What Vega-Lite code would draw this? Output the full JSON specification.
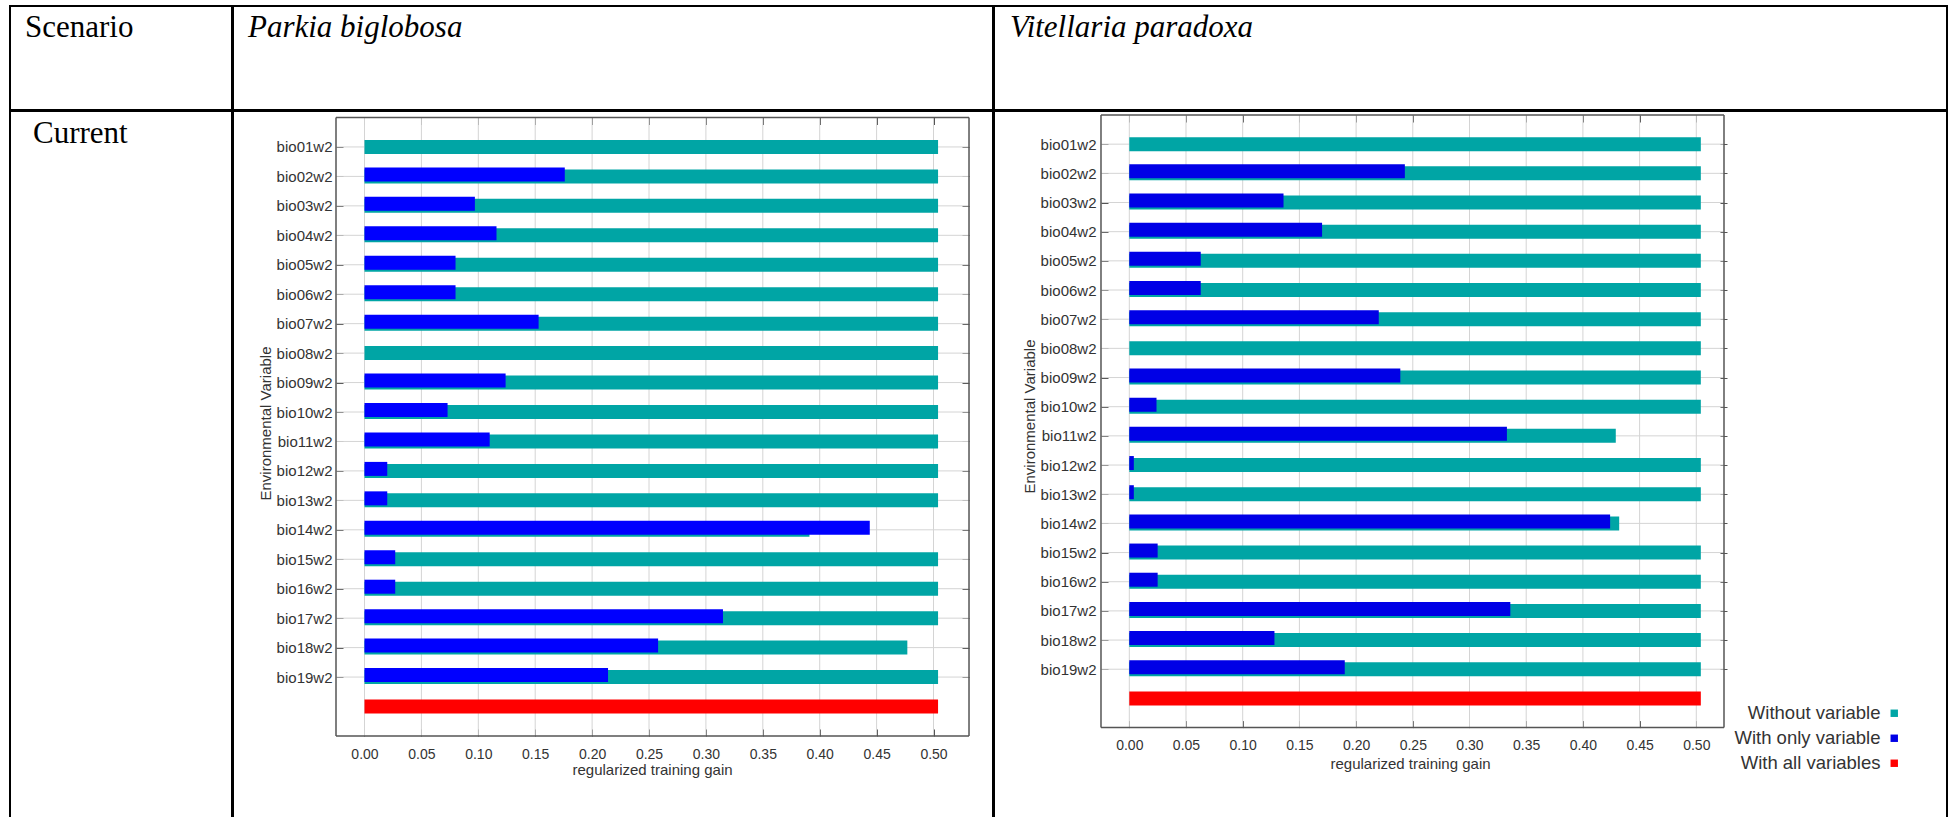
{
  "$schema": "https://vega.github.io/schema/vega-lite/v6.json",
  "padding": {"left": 9, "top": 5, "right": 0, "bottom": -14},
  "background": "white",
  "config": {
    "view": {"stroke": "#000000", "strokeWidth": 2},
    "axis": {"grid": false, "labelFont": "Liberation Sans", "titleFont": "Liberation Sans", "labelColor": "#333333", "titleColor": "#333333", "tickColor": "#555555", "titleFontWeight": "normal", "domain": false},
    "legend": {"labelFont": "Liberation Sans"},
    "title": {"font": "Liberation Serif", "fontSize": 31, "fontWeight": "normal", "color": "#000000", "anchor": "start", "frame": "group", "orient": "top", "baseline": "alphabetic"}
  },
  "datasets": {
    "parkia": [
      {"var": "bio01w2", "kind": "Without variable", "gain": 0.504}, {"var": "bio01w2", "kind": "With only variable", "gain": 0},
      {"var": "bio02w2", "kind": "Without variable", "gain": 0.504}, {"var": "bio02w2", "kind": "With only variable", "gain": 0.176},
      {"var": "bio03w2", "kind": "Without variable", "gain": 0.504}, {"var": "bio03w2", "kind": "With only variable", "gain": 0.097},
      {"var": "bio04w2", "kind": "Without variable", "gain": 0.504}, {"var": "bio04w2", "kind": "With only variable", "gain": 0.116},
      {"var": "bio05w2", "kind": "Without variable", "gain": 0.504}, {"var": "bio05w2", "kind": "With only variable", "gain": 0.080},
      {"var": "bio06w2", "kind": "Without variable", "gain": 0.504}, {"var": "bio06w2", "kind": "With only variable", "gain": 0.080},
      {"var": "bio07w2", "kind": "Without variable", "gain": 0.504}, {"var": "bio07w2", "kind": "With only variable", "gain": 0.153},
      {"var": "bio08w2", "kind": "Without variable", "gain": 0.504}, {"var": "bio08w2", "kind": "With only variable", "gain": 0},
      {"var": "bio09w2", "kind": "Without variable", "gain": 0.504}, {"var": "bio09w2", "kind": "With only variable", "gain": 0.124},
      {"var": "bio10w2", "kind": "Without variable", "gain": 0.504}, {"var": "bio10w2", "kind": "With only variable", "gain": 0.073},
      {"var": "bio11w2", "kind": "Without variable", "gain": 0.504}, {"var": "bio11w2", "kind": "With only variable", "gain": 0.110},
      {"var": "bio12w2", "kind": "Without variable", "gain": 0.504}, {"var": "bio12w2", "kind": "With only variable", "gain": 0.020},
      {"var": "bio13w2", "kind": "Without variable", "gain": 0.504}, {"var": "bio13w2", "kind": "With only variable", "gain": 0.020},
      {"var": "bio14w2", "kind": "Without variable", "gain": 0.391}, {"var": "bio14w2", "kind": "With only variable", "gain": 0.444},
      {"var": "bio15w2", "kind": "Without variable", "gain": 0.504}, {"var": "bio15w2", "kind": "With only variable", "gain": 0.027},
      {"var": "bio16w2", "kind": "Without variable", "gain": 0.504}, {"var": "bio16w2", "kind": "With only variable", "gain": 0.027},
      {"var": "bio17w2", "kind": "Without variable", "gain": 0.504}, {"var": "bio17w2", "kind": "With only variable", "gain": 0.315},
      {"var": "bio18w2", "kind": "Without variable", "gain": 0.477}, {"var": "bio18w2", "kind": "With only variable", "gain": 0.258},
      {"var": "bio19w2", "kind": "Without variable", "gain": 0.504}, {"var": "bio19w2", "kind": "With only variable", "gain": 0.214},
      {"var": "all", "kind": "With all variables", "gain": 0.504}
    ],
    "vitellaria": [
      {"var": "bio01w2", "kind": "Without variable", "gain": 0.504}, {"var": "bio01w2", "kind": "With only variable", "gain": 0},
      {"var": "bio02w2", "kind": "Without variable", "gain": 0.504}, {"var": "bio02w2", "kind": "With only variable", "gain": 0.243},
      {"var": "bio03w2", "kind": "Without variable", "gain": 0.504}, {"var": "bio03w2", "kind": "With only variable", "gain": 0.136},
      {"var": "bio04w2", "kind": "Without variable", "gain": 0.504}, {"var": "bio04w2", "kind": "With only variable", "gain": 0.170},
      {"var": "bio05w2", "kind": "Without variable", "gain": 0.504}, {"var": "bio05w2", "kind": "With only variable", "gain": 0.063},
      {"var": "bio06w2", "kind": "Without variable", "gain": 0.504}, {"var": "bio06w2", "kind": "With only variable", "gain": 0.063},
      {"var": "bio07w2", "kind": "Without variable", "gain": 0.504}, {"var": "bio07w2", "kind": "With only variable", "gain": 0.220},
      {"var": "bio08w2", "kind": "Without variable", "gain": 0.504}, {"var": "bio08w2", "kind": "With only variable", "gain": 0},
      {"var": "bio09w2", "kind": "Without variable", "gain": 0.504}, {"var": "bio09w2", "kind": "With only variable", "gain": 0.239},
      {"var": "bio10w2", "kind": "Without variable", "gain": 0.504}, {"var": "bio10w2", "kind": "With only variable", "gain": 0.024},
      {"var": "bio11w2", "kind": "Without variable", "gain": 0.429}, {"var": "bio11w2", "kind": "With only variable", "gain": 0.333},
      {"var": "bio12w2", "kind": "Without variable", "gain": 0.504}, {"var": "bio12w2", "kind": "With only variable", "gain": 0.004},
      {"var": "bio13w2", "kind": "Without variable", "gain": 0.504}, {"var": "bio13w2", "kind": "With only variable", "gain": 0.004},
      {"var": "bio14w2", "kind": "Without variable", "gain": 0.432}, {"var": "bio14w2", "kind": "With only variable", "gain": 0.424},
      {"var": "bio15w2", "kind": "Without variable", "gain": 0.504}, {"var": "bio15w2", "kind": "With only variable", "gain": 0.025},
      {"var": "bio16w2", "kind": "Without variable", "gain": 0.504}, {"var": "bio16w2", "kind": "With only variable", "gain": 0.025},
      {"var": "bio17w2", "kind": "Without variable", "gain": 0.504}, {"var": "bio17w2", "kind": "With only variable", "gain": 0.336},
      {"var": "bio18w2", "kind": "Without variable", "gain": 0.504}, {"var": "bio18w2", "kind": "With only variable", "gain": 0.128},
      {"var": "bio19w2", "kind": "Without variable", "gain": 0.504}, {"var": "bio19w2", "kind": "With only variable", "gain": 0.190},
      {"var": "all", "kind": "With all variables", "gain": 0.504}
    ],
    "ticks": [{"t": 0}, {"t": 0.05}, {"t": 0.1}, {"t": 0.15}, {"t": 0.2}, {"t": 0.25}, {"t": 0.3}, {"t": 0.35}, {"t": 0.4}, {"t": 0.45}, {"t": 0.5}],
    "one": [{"k": 1}]
  },
  "spacing": -2,
  "resolve": {"scale": {"color": "independent"}, "legend": {"color": "independent"}},
  "vconcat": [
    {
      "spacing": -2,
      "hconcat": [
        {"width": 222, "height": 104, "data": {"name": "one"}, "mark": {"type": "text"},
         "encoding": {"text": {"value": ""}, "x": {"datum": 1, "type": "quantitative", "axis": null, "scale": {"domain": [0, 2]}}, "y": {"datum": 1, "type": "quantitative", "axis": null, "scale": {"domain": [0, 2]}}},
         "title": {"text": "Scenario", "offset": -37.5, "dx": 15}},
        {"width": 760, "height": 104, "data": {"name": "one"}, "mark": {"type": "text"},
         "encoding": {"text": {"value": ""}, "x": {"datum": 1, "type": "quantitative", "axis": null, "scale": {"domain": [0, 2]}}, "y": {"datum": 1, "type": "quantitative", "axis": null, "scale": {"domain": [0, 2]}}},
         "title": {"text": "Parkia biglobosa", "offset": -37.5, "dx": 15, "fontStyle": "italic"}},
        {"width": 953, "height": 104, "data": {"name": "one"}, "mark": {"type": "text"},
         "encoding": {"text": {"value": ""}, "x": {"datum": 1, "type": "quantitative", "axis": null, "scale": {"domain": [0, 2]}}, "y": {"datum": 1, "type": "quantitative", "axis": null, "scale": {"domain": [0, 2]}}},
         "title": {"text": "Vitellaria paradoxa", "offset": -37.5, "dx": 16, "fontStyle": "italic"}}
      ]
    },
    {
      "spacing": -2,
      "resolve": {"scale": {"color": "independent"}, "legend": {"color": "independent"}},
      "hconcat": [
        {"width": 222, "height": 720, "data": {"name": "one"}, "mark": {"type": "text"},
         "encoding": {"text": {"value": ""}, "x": {"datum": 1, "type": "quantitative", "axis": null, "scale": {"domain": [0, 2]}}, "y": {"datum": 1, "type": "quantitative", "axis": null, "scale": {"domain": [0, 2]}}},
         "title": {"text": "Current", "offset": -38.5, "dx": 23}},
        {
          "width": 760, "height": 720,
          "data": {"name": "parkia"},
          "resolve": {"axis": {"x": "independent", "y": "independent"}},
          "layer": [
            {"transform": [{"filter": "datum.kind === 'Without variable'"}],
             "mark": {"type": "rule", "color": "#d4d4d4", "strokeWidth": 1},
             "encoding": {
               "y": {"field": "var", "type": "nominal", "axis": null,
                     "scale": {"type": "point", "domain": ["_top", "bio01w2", "bio02w2", "bio03w2", "bio04w2", "bio05w2", "bio06w2", "bio07w2", "bio08w2", "bio09w2", "bio10w2", "bio11w2", "bio12w2", "bio13w2", "bio14w2", "bio15w2", "bio16w2", "bio17w2", "bio18w2", "bio19w2", "all", "_bottom", "_p1", "_p2"], "padding": 0.724, "align": 0.1524}},
               "x": {"datum": -0.02504, "type": "quantitative", "axis": null, "scale": {"domain": [-0.11555, 0.55228], "nice": false, "zero": false}},
               "x2": {"datum": 0.5312}
             }},
            {"data": {"name": "ticks"},
             "mark": {"type": "rule", "color": "#d4d4d4", "strokeWidth": 1},
             "encoding": {
               "x": {"field": "t", "type": "quantitative", "axis": null},
               "y": {"datum": "_top", "type": "nominal", "axis": null},
               "y2": {"datum": "_bottom"}
             }},
            {"transform": [{"filter": "datum.kind !== 'With only variable'"}],
             "mark": {"type": "bar", "height": 14},
             "encoding": {
               "x": {"field": "gain", "type": "quantitative", "stack": null,
                     "axis": {"orient": "bottom", "offset": -102, "values": [0, 0.05, 0.1, 0.15, 0.2, 0.25, 0.3, 0.35, 0.4, 0.45, 0.5], "format": ".2f", "tickSize": 7, "labelPadding": 11, "labelFontSize": 14, "title": "regularized training gain", "titleFontSize": 15, "titlePadding": 1, "titleX": 419}},
               "y": {"field": "var", "type": "nominal",
                     "axis": {"orient": "left", "offset": -110, "values": ["bio01w2", "bio02w2", "bio03w2", "bio04w2", "bio05w2", "bio06w2", "bio07w2", "bio08w2", "bio09w2", "bio10w2", "bio11w2", "bio12w2", "bio13w2", "bio14w2", "bio15w2", "bio16w2", "bio17w2", "bio18w2", "bio19w2"], "tickSize": 7, "labelPadding": 4, "labelFontSize": 15, "title": "Environmental Variable", "titleFontSize": 15, "titlePadding": 3, "titleY": 312}},
               "color": {"field": "kind", "type": "nominal", "legend": null,
                         "scale": {"domain": ["Without variable", "With only variable", "With all variables"], "range": ["#00a5a5", "#0000ff", "#ff0000"]}}
             }},
            {"transform": [{"filter": "datum.kind === 'With only variable'"}],
             "mark": {"type": "bar", "height": 14, "yOffset": -2},
             "encoding": {
               "x": {"field": "gain", "type": "quantitative", "stack": null, "axis": null},
               "y": {"field": "var", "type": "nominal", "axis": null},
               "color": {"field": "kind", "type": "nominal", "legend": null}
             }},
            {"data": {"name": "one"},
             "mark": {"type": "rule", "color": "#555555", "strokeWidth": 1.5},
             "encoding": {
               "x": {"datum": -0.02504, "type": "quantitative", "axis": null},
               "y": {"datum": "_top", "type": "nominal", "axis": null},
               "y2": {"datum": "_bottom"}
             }},
            {"data": {"name": "one"},
             "mark": {"type": "rule", "color": "#555555", "strokeWidth": 1.5},
             "encoding": {
               "x": {"datum": 0.5312, "type": "quantitative", "axis": null},
               "y": {"datum": "_top", "type": "nominal",
                     "axis": {"orient": "right", "offset": -31, "values": ["bio01w2", "bio02w2", "bio03w2", "bio04w2", "bio05w2", "bio06w2", "bio07w2", "bio08w2", "bio09w2", "bio10w2", "bio11w2", "bio12w2", "bio13w2", "bio14w2", "bio15w2", "bio16w2", "bio17w2", "bio18w2", "bio19w2"], "tickSize": 7, "labels": false, "title": null}},
               "y2": {"datum": "_bottom"}
             }},
            {"data": {"name": "one"},
             "mark": {"type": "rule", "color": "#555555", "strokeWidth": 1.5},
             "encoding": {
               "y": {"datum": "_top", "type": "nominal", "axis": null},
               "x": {"datum": -0.02504, "type": "quantitative",
                     "axis": {"orient": "top", "offset": -13.5, "values": [0, 0.05, 0.1, 0.15, 0.2, 0.25, 0.3, 0.35, 0.4, 0.45, 0.5], "tickSize": 7, "labels": false, "title": null}},
               "x2": {"datum": 0.5312}
             }},
            {"data": {"name": "one"},
             "mark": {"type": "rule", "color": "#555555", "strokeWidth": 1.5},
             "encoding": {
               "y": {"datum": "_bottom", "type": "nominal", "axis": null},
               "x": {"datum": -0.02504, "type": "quantitative", "axis": null},
               "x2": {"datum": 0.5312}
             }}
          ]
        },
        {
          "width": 953, "height": 720,
          "data": {"name": "vitellaria"},
          "resolve": {"axis": {"x": "independent", "y": "independent"}},
          "layer": [
            {"transform": [{"filter": "datum.kind === 'Without variable'"}],
             "mark": {"type": "rule", "color": "#d4d4d4", "strokeWidth": 1},
             "encoding": {
               "y": {"field": "var", "type": "nominal", "axis": null,
                     "scale": {"type": "point", "domain": ["_top", "bio01w2", "bio02w2", "bio03w2", "bio04w2", "bio05w2", "bio06w2", "bio07w2", "bio08w2", "bio09w2", "bio10w2", "bio11w2", "bio12w2", "bio13w2", "bio14w2", "bio15w2", "bio16w2", "bio17w2", "bio18w2", "bio19w2", "all", "_bottom", "_p1", "_p2"], "padding": 0.8414, "align": 0.0815}},
               "x": {"datum": -0.02496, "type": "quantitative", "axis": null, "scale": {"domain": [-0.11931, 0.72108], "nice": false, "zero": false}},
               "x2": {"datum": 0.52443}
             }},
            {"data": {"name": "ticks"},
             "mark": {"type": "rule", "color": "#d4d4d4", "strokeWidth": 1},
             "encoding": {
               "x": {"field": "t", "type": "quantitative", "axis": null},
               "y": {"datum": "_top", "type": "nominal", "axis": null},
               "y2": {"datum": "_bottom"}
             }},
            {"transform": [{"filter": "datum.kind !== 'With only variable'"}],
             "mark": {"type": "bar", "height": 14},
             "encoding": {
               "x": {"field": "gain", "type": "quantitative", "stack": null,
                     "axis": {"orient": "bottom", "offset": -110.4, "values": [0, 0.05, 0.1, 0.15, 0.2, 0.25, 0.3, 0.35, 0.4, 0.45, 0.5], "format": ".2f", "tickSize": 7, "labelPadding": 11, "labelFontSize": 14, "title": "regularized training gain", "titleFontSize": 15, "titlePadding": 4, "titleX": 416}},
               "y": {"field": "var", "type": "nominal",
                     "axis": {"orient": "left", "offset": -114, "values": ["bio01w2", "bio02w2", "bio03w2", "bio04w2", "bio05w2", "bio06w2", "bio07w2", "bio08w2", "bio09w2", "bio10w2", "bio11w2", "bio12w2", "bio13w2", "bio14w2", "bio15w2", "bio16w2", "bio17w2", "bio18w2", "bio19w2"], "tickSize": 7, "labelPadding": 5, "labelFontSize": 15, "title": "Environmental Variable", "titleFontSize": 15, "titlePadding": 3, "titleY": 305}},
               "color": {"field": "kind", "type": "nominal",
                         "scale": {"domain": ["Without variable", "With only variable", "With all variables"], "range": ["#00a5a5", "#0000e6", "#ff0000"]},
                         "legend": {"orient": "none", "legendX": 891, "legendY": 593, "title": null, "symbolType": "square", "symbolSize": 55, "symbolStrokeWidth": 0, "labelFontSize": 18.5, "labelColor": "#333333", "labelAlign": "right", "labelOffset": -23, "rowPadding": 6, "padding": 0}}
             }},
            {"transform": [{"filter": "datum.kind === 'With only variable'"}],
             "mark": {"type": "bar", "height": 14, "yOffset": -2},
             "encoding": {
               "x": {"field": "gain", "type": "quantitative", "stack": null, "axis": null},
               "y": {"field": "var", "type": "nominal", "axis": null},
               "color": {"field": "kind", "type": "nominal"}
             }},
            {"data": {"name": "one"},
             "mark": {"type": "rule", "color": "#555555", "strokeWidth": 1.5},
             "encoding": {
               "x": {"datum": -0.02496, "type": "quantitative", "axis": null},
               "y": {"datum": "_top", "type": "nominal", "axis": null},
               "y2": {"datum": "_bottom"}
             }},
            {"data": {"name": "one"},
             "mark": {"type": "rule", "color": "#555555", "strokeWidth": 1.5},
             "encoding": {
               "x": {"datum": 0.52443, "type": "quantitative", "axis": null},
               "y": {"datum": "_top", "type": "nominal",
                     "axis": {"orient": "right", "offset": -227, "values": ["bio01w2", "bio02w2", "bio03w2", "bio04w2", "bio05w2", "bio06w2", "bio07w2", "bio08w2", "bio09w2", "bio10w2", "bio11w2", "bio12w2", "bio13w2", "bio14w2", "bio15w2", "bio16w2", "bio17w2", "bio18w2", "bio19w2"], "tickSize": 7, "labels": false, "title": null}},
               "y2": {"datum": "_bottom"}
             }},
            {"data": {"name": "one"},
             "mark": {"type": "rule", "color": "#555555", "strokeWidth": 1.5},
             "encoding": {
               "y": {"datum": "_top", "type": "nominal", "axis": null},
               "x": {"datum": -0.02496, "type": "quantitative",
                     "axis": {"orient": "top", "offset": -11, "values": [0, 0.05, 0.1, 0.15, 0.2, 0.25, 0.3, 0.35, 0.4, 0.45, 0.5], "tickSize": 7, "labels": false, "title": null}},
               "x2": {"datum": 0.52443}
             }},
            {"data": {"name": "one"},
             "mark": {"type": "rule", "color": "#555555", "strokeWidth": 1.5},
             "encoding": {
               "y": {"datum": "_bottom", "type": "nominal", "axis": null},
               "x": {"datum": -0.02496, "type": "quantitative", "axis": null},
               "x2": {"datum": 0.52443}
             }}
          ]
        }
      ]
    }
  ]
}
